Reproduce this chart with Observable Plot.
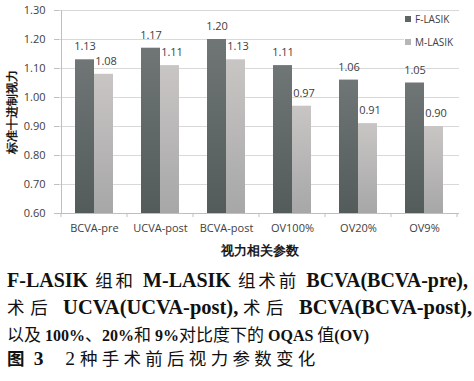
<!DOCTYPE html>
<html>
<head>
<meta charset="utf-8">
<script src="https://cdn.jsdelivr.net/npm/d3@7"></script>
<script src="https://cdn.jsdelivr.net/npm/@observablehq/plot@0.6"></script>
<style>
  html, body { margin: 0; padding: 0; background: #fff; }
  #wrap { position: relative; width: 474px; height: 381px; overflow: hidden; background: #fff; }
  #legend { position: absolute; left: 404px; top: 12px; width: 56px; height: 38px; background: #fff;
            font-family: "Open Sans", sans-serif; font-size: 10px; color: #404040; }
  #legend .item { position: absolute; left: 1px; height: 12px; line-height: 12px; white-space: nowrap; }
  #legend .sw { display: inline-block; width: 6px; height: 6px; margin-right: 4px; vertical-align: 1px; }
  #caption { position: absolute; left: 0; top: 0; width: 474px; height: 381px;
             font-family: "Liberation Serif", "Noto Sans CJK SC", serif; font-size: 19.5px; color: #111; }
  #caption .ln { position: absolute; left: 7px; height: 24px; line-height: 24px; white-space: nowrap; }
  #caption .j { text-align: justify; text-align-last: justify; white-space: normal; }
  #caption b { font-weight: bold; }
  #caption .cn { font-family: "Noto Sans CJK SC", sans-serif; font-weight: 400; }
  #caption .rg { font-weight: normal; }
  svg [aria-label="y-axis label"] text { font-weight: bold; font-size: 11.5px; fill: #1a1a1a; }
  svg [aria-label="x-axis label"] text { font-weight: bold; font-size: 13px; fill: #1a1a1a; }
</style>
</head>
<body>
<div id="wrap">
  <div id="chart"></div>
  <div id="legend"></div>
  <div id="caption"></div>
</div>
<script>
const categories = ["BCVA-pre", "UCVA-post", "BCVA-post", "OV100%", "OV20%", "OV9%"];
const seriesNames = ["F-LASIK", "M-LASIK"];
const fLasik = [1.13, 1.17, 1.20, 1.11, 1.06, 1.05];
const mLasik = [1.08, 1.11, 1.13, 0.97, 0.91, 0.90];
const yTicks = [0.60, 0.70, 0.80, 0.90, 1.00, 1.10, 1.20, 1.30];
const xTitle = "视力相关参数";
const yTitle = "标准十进制视力";
const captionLines = [
  "F-LASIK 组和 M-LASIK 组术前 BCVA(BCVA-pre),",
  "术后 UCVA(UCVA-post),术后 BCVA(BCVA-post),",
  "以及 100%、20%和 9%对比度下的 OQAS 值(OV)",
  "图 3　2 种手术前后视力参数变化"
];

const data = categories.map((c, i) => ({cat: c, f: fLasik[i], m: mLasik[i]}));

const W = 474, H = 255, mL = 59, mR = 15, mT = 10, mB = 42;
const padInner = 0.43;
const band = (W - mL - mR) / categories.length * (1 - padInner);
const half = band / 2;

const plot = Plot.plot({
  width: W, height: H,
  marginLeft: mL, marginRight: mR, marginTop: mT, marginBottom: mB,
  style: {fontFamily: "Open Sans, sans-serif", fontSize: "11px", color: "#404040", background: "white", overflow: "visible"},
  x: {domain: categories, paddingInner: padInner, paddingOuter: padInner / 2},
  y: {domain: [0.6, 1.3]},
  marks: [
    Plot.ruleY(yTicks.filter(t => t > 0.6), {stroke: "#d9d9d9", strokeWidth: 1}),
    Plot.barY(data, {x: "cat", y1: 0.6, y2: "f", fill: "url(#gradF)", insetRight: half}),
    Plot.barY(data, {x: "cat", y1: 0.6, y2: "m", fill: "url(#gradM)", insetLeft: half}),
    Plot.ruleY([0.6], {stroke: "#bfbfbf", strokeWidth: 1}),
    Plot.text(data, {x: "cat", y: "f", text: d => d.f.toFixed(2), dx: -half / 2, dy: -13, fill: "#404040", fontSize: 11}),
    Plot.text(data, {x: "cat", y: "m", text: d => d.m.toFixed(2), dx: half / 2 + 2, dy: -13, fill: "#404040", fontSize: 11}),
    Plot.axisY({ticks: yTicks, tickFormat: d => d.toFixed(2), tickSize: 5, tickPadding: 9, stroke: "#bfbfbf", fill: "#404040", fontSize: 11,
      label: yTitle, labelAnchor: "center", labelOffset: 52, labelArrow: "none"}),
    Plot.axisX({tickSize: 0, tickPadding: 11, fill: "#404040", fontSize: 11,
      label: xTitle, labelAnchor: "center", labelOffset: 41, labelArrow: "none"})
  ]
});

const svg = d3.select(plot);
const defs = svg.insert("defs", ":first-child");
function grad(id, top, bottom) {
  const g = defs.append("linearGradient").attr("id", id).attr("x1", 0).attr("y1", 0).attr("x2", 0).attr("y2", 1);
  g.append("stop").attr("offset", "0%").attr("stop-color", top);
  g.append("stop").attr("offset", "100%").attr("stop-color", bottom);
}
grad("gradF", "#6f7675", "#535c5b");
grad("gradM", "#c9c5c5", "#a7a7a7");

// axis line and category boundary ticks, derived from the scales
const xs = plot.scale("x"), ys = plot.scale("y");
const yb = ys.apply(0.6), yt = ys.apply(1.3);
const gap = (xs.step - xs.bandwidth) / 2;
const bounds = categories.map(c => xs.apply(c) - gap).concat([xs.apply(categories[categories.length - 1]) + xs.bandwidth + gap]);
const ga = svg.append("g").attr("stroke", "#bfbfbf").attr("stroke-width", 1);
ga.append("line").attr("x1", bounds[0]).attr("x2", bounds[0]).attr("y1", yt).attr("y2", yb).attr("shape-rendering", "crispEdges");
bounds.forEach(b => ga.append("line").attr("x1", b).attr("x2", b).attr("y1", yb).attr("y2", yb + 4));

document.getElementById("chart").appendChild(plot);

// legend
const legend = d3.select("#legend");
const swatch = ["#5f6766", "#b8b5b5"];
seriesNames.forEach((s, i) => {
  const it = legend.append("div").attr("class", "item").style("top", (1 + i * 23) + "px");
  it.append("span").attr("class", "sw").style("background", swatch[i]);
  it.append("span").text(s);
});

// caption: Latin runs bold serif, CJK runs regular
const cap = d3.select("#caption");
const lineCenters = [280, 307, 334, 358];
const lineWidths = [461, 465, null, null];
const latinSize = ["20px", "20.5px", "16px", "19.5px"];
const cjkSize = ["17.5px", "17.5px", "17px", "17.5px"];
const cjkSpacing = ["1px", "1px", "0px", "4.3px"];
captionLines.forEach((line, i) => {
  const div = cap.append("div").attr("class", "ln" + (lineWidths[i] ? " j" : "")).style("top", (lineCenters[i] - 12) + "px")
    .style("font-size", latinSize[i]);
  if (lineWidths[i]) div.style("width", lineWidths[i] + "px");
  const parts = line.match(/[\u3000-\u9fff\uff00-\uffef]+|[^\u3000-\u9fff\uff00-\uffef]+/g);
  parts.forEach((p, k) => {
    if (/[\u3000-\u9fff\uff00-\uffef]/.test(p)) {
      const s = div.append("span").attr("class", "cn").style("letter-spacing", cjkSpacing[i]).style("font-size", cjkSize[i]).text(p);
      if (i === 3 && k === 0) s.style("font-weight", "bold");
    } else if (i === 3 && k > 1) {
      div.append("span").attr("class", "rg").text(p);
    } else {
      div.append("b").text(p);
    }
  });
});
</script>
</body>
</html>
